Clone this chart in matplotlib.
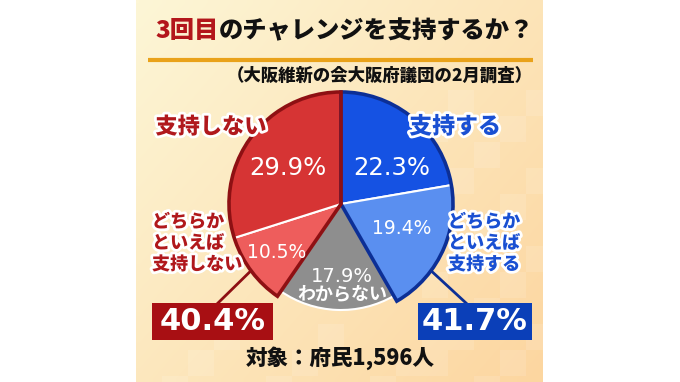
import numpy as np
import matplotlib
matplotlib.use("Agg")
import matplotlib.pyplot as plt
from matplotlib.patches import Wedge, Rectangle
import matplotlib.patheffects as pe

plt.rcParams['font.family'] = ['Noto Sans CJK JP', 'DejaVu Sans']

# survey data
labels = ["支持する", "どちらかといえば支持する", "わからない",
          "どちらかといえば支持しない", "支持しない"]
values = [22.3, 19.4, 17.9, 10.5, 29.9]
colors = ["#1552e3", "#5a8ff0", "#8e8e8e", "#ee5d5c", "#d63434"]
title_red = "3回目"
title_rest = "のチャレンジを支持するか？"
subtitle = "（大阪維新の会大阪府議団の2月調査）"
footer = "対象：府民1,596人"

W, H = 680, 382
fig = plt.figure(figsize=(6.8, 3.82), dpi=100)
ax = fig.add_axes([0, 0, 1, 1])

# background panel
px0, px1 = 136, 543
yy, xx = np.mgrid[0:1:60j, 0:1:60j]
t = 0.55 * xx + 0.45 * yy
c0 = np.array([253, 246, 214]) / 255
c1 = np.array([252, 214, 160]) / 255
grad = c0[None, None, :] * (1 - t[..., None]) + c1[None, None, :] * t[..., None]
ax.imshow(grad, extent=[px0, px1, H, 0], interpolation='bilinear', zorder=0)
# faint checker squares
for i, x in enumerate(range(px0, px1, 26)):
    for j, y in enumerate(range(90, H, 26)):
        if (i + j) % 3 == 0 and x > 400 or (i + j) % 4 == 0 and y > 300:
            ax.add_patch(Rectangle((x, y), 26, 26, fc='white', ec='none',
                                   alpha=0.12, zorder=0.5))

cx, cy, r = 341, 204, 112
wedges, _ = ax.pie(values, colors=colors, startangle=270, counterclock=True,
                   center=(cx, cy), radius=r,
                   wedgeprops=dict(edgecolor='white', linewidth=1.5))
for w in wedges:
    w.set_zorder(2)
wedges[2].set_radius(r - 6)  # the "わからない" slice sits a bit smaller

# group outlines
blue_dark = "#0c2f96"
red_dark = "#8e1013"
ax.add_patch(Wedge((cx, cy), r, wedges[0].theta1, wedges[1].theta2,
                   fill=False, ec=blue_dark, lw=2.6, zorder=3))
ax.add_patch(Wedge((cx, cy), r, wedges[3].theta1, wedges[4].theta2,
                   fill=False, ec=red_dark, lw=2.6, zorder=3))

ax.set_xlim(0, W)
ax.set_ylim(H, 0)
ax.axis('off')

# title
ax.text(219, 31, title_red, ha='right', va='center', fontsize=17.5,
        fontweight='heavy', color='#b3161b')
ax.text(219, 31, title_rest, ha='left', va='center', fontsize=17.5,
        fontweight='heavy', color='#111111')
ax.plot([148, 533], [59.5, 59.5], color='#e9a21a', lw=3, solid_capstyle='butt')
ax.text(533, 76, subtitle, ha='right', va='center', fontsize=12.5,
        fontweight='heavy', color='#111111')

stroke = [pe.withStroke(linewidth=4, foreground='white')]
num_font = ['DejaVu Sans']

def pct(v):
    return f"{v:.1f}%"

# slice values
ax.text(288, 168, pct(values[4]), ha='center', va='center', fontsize=17.5,
        color='white', family=num_font)
ax.text(392, 168, pct(values[0]), ha='center', va='center', fontsize=17.5,
        color='white', family=num_font)
ax.text(402, 228, pct(values[1]), ha='center', va='center', fontsize=13.5,
        color='white', family=num_font)
ax.text(277, 252, pct(values[3]), ha='center', va='center', fontsize=13.5,
        color='white', family=num_font)
ax.text(342, 276, pct(values[2]), ha='center', va='center', fontsize=14,
        color='white', family=num_font)
ax.text(342, 294, labels[2], ha='center', va='center', fontsize=13,
        fontweight='bold', color='white')

# category labels
red_txt = "#b0181c"
blue_txt = "#1a50d2"
ax.text(211, 127, labels[4], ha='center', va='center', fontsize=16,
        fontweight='heavy', color=red_txt, path_effects=stroke)
ax.text(455, 127, labels[0], ha='center', va='center', fontsize=16.5,
        fontweight='heavy', color=blue_txt, path_effects=stroke)
ax.text(152, 243, "どちらか\nといえば\n支持しない", ha='left', va='center',
        fontsize=13, fontweight='heavy', color=red_txt, linespacing=1.15,
        path_effects=stroke)
ax.text(448, 243, "どちらか\nといえば\n支持する", ha='left', va='center',
        fontsize=13, fontweight='heavy', color=blue_txt, linespacing=1.15,
        path_effects=stroke)

# connectors to totals (start on the arc, mirrored left/right)
a = np.deg2rad((wedges[3].theta1 + wedges[3].theta2) / 2)
ax.plot([cx + r * np.cos(a), 218], [cy + r * np.sin(a), 303],
        color=red_dark, lw=2, zorder=1)
ax.plot([cx - r * np.cos(a), 466], [cy + r * np.sin(a), 303],
        color=blue_dark, lw=2, zorder=1)

# totals
ax.add_patch(Rectangle((152, 303), 121, 37, fc='#a80f13', ec='none', zorder=4))
ax.add_patch(Rectangle((418, 303), 114, 37, fc='#0b3fb8', ec='none', zorder=4))
ax.text(212.5, 322, pct(values[3] + values[4]), ha='center', va='center',
        fontsize=22, fontweight='bold', color='white', zorder=5, family=num_font)
ax.text(475, 322, pct(values[0] + values[1]), ha='center', va='center',
        fontsize=22, fontweight='bold', color='white', zorder=5, family=num_font)

ax.text(340, 358, footer, ha='center', va='center', fontsize=15.5,
        fontweight='heavy', color='#111111')

fig.savefig("out.png", dpi=100)
